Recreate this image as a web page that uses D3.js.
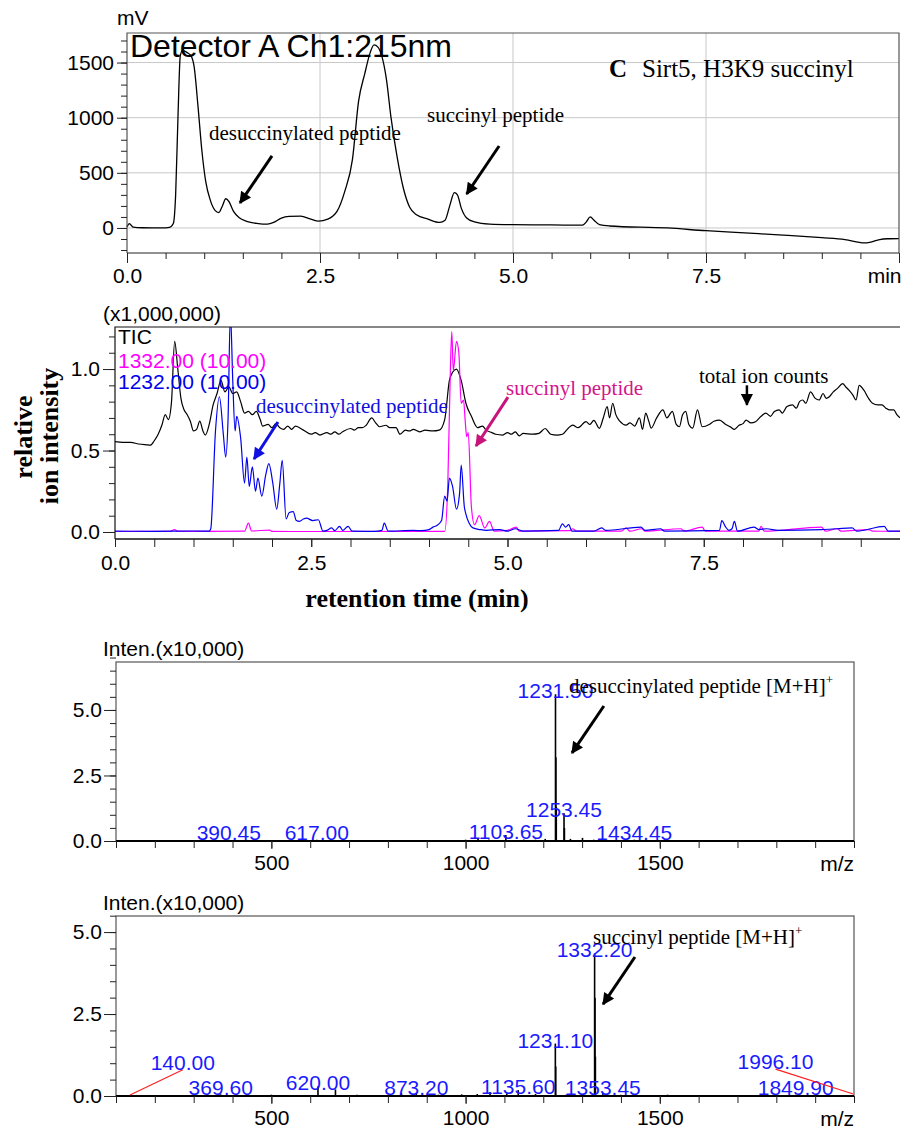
<!DOCTYPE html>
<html>
<head>
<meta charset="utf-8">
<script src="https://cdn.jsdelivr.net/npm/d3@7"></script>
<style>
  body { margin: 0; background: #fff; }
  svg { display: block; }
</style>
</head>
<body>
<svg id="chart" width="901" height="1132"></svg>
<script>
// ---- UV chromatogram, Detector A Ch1:215nm  [min, mV]
const uvTrace = [[0,10],[0.03,40],[0.08,8],[0.2,2],[0.45,0],[0.55,5],[0.6,40],[0.63,300],[0.66,1000],[0.69,1560],
  [0.72,1610],[0.78,1590],[0.83,1560],[0.87,1460],[0.92,1100],[0.97,700],[1.02,420],[1.08,250],[1.14,160],[1.19,140],
  [1.23,190],[1.28,265],[1.32,240],[1.38,150],[1.45,95],[1.55,60],[1.7,40],[1.82,35],[1.9,50],[2.0,90],[2.1,105],
  [2.25,108],[2.38,80],[2.48,62],[2.6,80],[2.72,150],[2.82,330],[2.92,620],[3.0,1150],[3.08,1400],[3.15,1590],
  [3.2,1660],[3.25,1640],[3.3,1560],[3.36,1350],[3.42,1000],[3.5,640],[3.58,360],[3.66,190],[3.75,120],[3.9,80],
  [4.05,50],[4.12,70],[4.18,200],[4.24,320],[4.28,300],[4.33,180],[4.4,90],[4.5,55],[4.7,35],[5.0,30],[5.5,28],
  [5.9,25],[5.95,55],[6.0,100],[6.05,70],[6.12,30],[6.25,18],[7.0,0],[7.5,-25],[8.0,-45],[8.5,-65],[9.0,-88],
  [9.3,-105],[9.55,-135],[9.62,-130],[9.75,-105],[9.85,-98],[10,-96]];

// ---- LC-MS chromatograms (x1,000,000)  [min, intensity]
const ticTrace = [[0,0.555],[0.1,0.55],[0.2,0.55],[0.3,0.54],[0.4,0.535],[0.45,0.533],[0.5,0.56],[0.55,0.6],[0.6,0.66],
  [0.64,0.72],[0.68,0.69],[0.72,0.8],[0.76,1.17],[0.8,1.0],[0.84,0.82],[0.88,0.75],[0.92,0.72],[0.96,0.68],[1.0,0.62],
  [1.04,0.63],[1.08,0.68],[1.12,0.62],[1.15,0.595],[1.2,0.66],[1.25,0.78],[1.3,0.85],[1.35,0.93],[1.4,0.86],[1.45,0.89],
  [1.5,0.85],[1.55,0.86],[1.6,0.8],[1.65,0.73],[1.7,0.74],[1.75,0.72],[1.8,0.74],[1.85,0.69],[1.88,0.65],[1.95,0.66],
  [2.0,0.64],[2.05,0.665],[2.1,0.64],[2.15,0.63],[2.2,0.65],[2.25,0.63],[2.3,0.65],[2.4,0.625],[2.5,0.6],[2.55,0.61],
  [2.61,0.595],[2.7,0.61],[2.75,0.6],[2.8,0.615],[2.85,0.6],[2.9,0.615],[3.0,0.635],[3.05,0.625],[3.1,0.64],[3.15,0.64],
  [3.2,0.655],[3.27,0.70],[3.32,0.67],[3.37,0.646],[3.45,0.655],[3.5,0.64],[3.58,0.64],[3.63,0.60],[3.7,0.625],
  [3.75,0.62],[3.8,0.63],[3.88,0.615],[3.95,0.625],[4.05,0.62],[4.13,0.625],[4.2,0.69],[4.26,0.93],[4.3,0.98],
  [4.35,1.0],[4.41,0.93],[4.47,0.79],[4.54,0.71],[4.62,0.64],[4.68,0.65],[4.73,0.625],[4.8,0.61],[4.85,0.6],
  [4.94,0.595],[5.0,0.61],[5.05,0.6],[5.1,0.615],[5.15,0.59],[5.2,0.605],[5.32,0.6],[5.4,0.605],[5.48,0.635],
  [5.55,0.6],[5.63,0.595],[5.7,0.6],[5.78,0.64],[5.83,0.656],[5.9,0.64],[6.0,0.677],[6.05,0.66],[6.1,0.685],
  [6.17,0.636],[6.22,0.7],[6.27,0.77],[6.3,0.70],[6.34,0.79],[6.38,0.72],[6.43,0.68],[6.51,0.656],[6.56,0.67],
  [6.62,0.65],[6.68,0.70],[6.72,0.63],[6.76,0.73],[6.8,0.68],[6.83,0.638],[6.9,0.70],[6.98,0.75],[7.03,0.70],
  [7.1,0.74],[7.15,0.66],[7.19,0.646],[7.23,0.72],[7.27,0.74],[7.31,0.66],[7.36,0.638],[7.42,0.75],[7.48,0.646],
  [7.57,0.66],[7.63,0.68],[7.7,0.687],[7.78,0.66],[7.84,0.645],[7.89,0.63],[7.95,0.655],[8.0,0.665],[8.04,0.687],
  [8.1,0.67],[8.16,0.677],[8.23,0.71],[8.29,0.73],[8.35,0.71],[8.4,0.74],[8.46,0.75],[8.5,0.73],[8.56,0.77],
  [8.63,0.78],[8.68,0.76],[8.72,0.80],[8.76,0.81],[8.8,0.79],[8.86,0.86],[8.92,0.82],[8.97,0.81],[9.02,0.85],
  [9.06,0.82],[9.1,0.83],[9.15,0.86],[9.2,0.88],[9.27,0.91],[9.31,0.89],[9.35,0.87],[9.4,0.84],[9.44,0.81],
  [9.48,0.90],[9.54,0.87],[9.6,0.82],[9.65,0.79],[9.72,0.78],[9.77,0.78],[9.82,0.76],[9.86,0.75],[9.92,0.75],
  [9.96,0.72],[10,0.70]];

const mz1232Trace = [[0,0.005],[0.5,0.004],[1.0,0.006],[1.2,0.005],[1.22,0.02],[1.28,0.62],[1.33,0.83],[1.38,0.6],
  [1.41,0.46],[1.44,0.69],[1.47,1.35],[1.5,0.93],[1.53,0.62],[1.55,0.71],[1.6,0.58],[1.65,0.3],[1.68,0.46],[1.71,0.28],
  [1.75,0.4],[1.79,0.25],[1.82,0.33],[1.87,0.22],[1.92,0.35],[1.96,0.42],[2.01,0.3],[2.06,0.14],[2.1,0.3],[2.13,0.44],
  [2.18,0.08],[2.22,0.12],[2.27,0.125],[2.31,0.07],[2.35,0.065],[2.4,0.08],[2.44,0.085],[2.52,0.07],[2.59,0.075],
  [2.65,0.005],[2.7,0.01],[2.76,0.025],[2.8,0.008],[2.86,0.035],[2.9,0.01],[2.97,0.035],[3.02,0.005],[3.3,0.004],
  [3.4,0.01],[3.43,0.055],[3.48,0.005],[3.8,0.01],[3.9,0.008],[4.0,0.015],[4.05,0.03],[4.1,0.04],[4.16,0.07],[4.2,0.22],
  [4.23,0.19],[4.26,0.33],[4.3,0.28],[4.35,0.14],[4.39,0.24],[4.41,0.41],[4.45,0.155],[4.47,0.11],[4.51,0.055],
  [4.56,0.025],[4.65,0.015],[4.73,0.01],[4.9,0.015],[5.0,0.005],[5.1,0.02],[5.2,0.005],[5.65,0.01],[5.7,0.05],
  [5.74,0.03],[5.78,0.045],[5.82,0.005],[6.1,0.005],[6.2,0.025],[6.25,0.01],[6.7,0.03],[6.75,0.01],[6.95,0.02],
  [7.0,0.005],[7.7,0.01],[7.73,0.07],[7.78,0.03],[7.82,0.01],[7.86,0.02],[7.89,0.065],[7.93,0.005],[8.14,0.03],
  [8.2,0.015],[8.3,0.02],[8.45,0.01],[9.0,0.015],[9.2,0.02],[9.39,0.025],[9.45,0.005],[9.8,0.035],[9.85,0.005],[10,0.005]];

const mz1332Trace = [[0,0.003],[0.7,0.004],[0.76,0.015],[0.8,0.004],[1.65,0.005],[1.7,0.055],[1.74,0.006],[1.97,0.012],
  [2.0,0.004],[2.4,0.003],[4.2,0.004],[4.24,0.3],[4.27,0.95],[4.29,1.23],[4.31,0.99],[4.35,1.17],[4.38,1.1],[4.41,0.79],
  [4.44,0.81],[4.46,0.69],[4.48,0.585],[4.5,0.61],[4.54,0.155],[4.58,0.045],[4.64,0.1],[4.71,0.025],[4.77,0.065],
  [4.83,0.005],[5.0,0.01],[5.11,0.03],[5.15,0.005],[5.8,0.008],[5.83,0.02],[5.88,0.005],[6.45,0.005],[6.51,0.025],
  [6.56,0.005],[6.71,0.02],[6.75,0.005],[7.21,0.02],[7.25,0.005],[7.48,0.03],[7.52,0.005],[8.2,0.005],[8.23,0.035],
  [8.27,0.005],[9.0,0.03],[9.05,0.005],[9.2,0.02],[9.25,0.005],[9.6,0.015],[9.65,0.005],[10,0.004]];

// ---- mass spectra (x10,000)  [m/z, intensity]
const spectrum1 = [[150,0.03],[210,0.02],[260,0.03],[310,0.02],[390.45,0.05],[420,0.03],[480,0.02],[540,0.03],
  [617,0.05],[660,0.03],[720,0.02],[780,0.03],[840,0.02],[900,0.03],[950,0.04],[1000,0.05],[1032,0.1],[1060,0.06],
  [1103.65,0.23],[1150,0.06],[1180,0.05],[1205,0.08],[1231.5,5.6],[1232.5,3.2],[1233.5,1.3],[1253.45,1.06],
  [1254.45,0.5],[1270,0.08],[1301,0.12],[1330,0.05],[1380,0.04],[1434.45,0.05],[1480,0.03],[1530,0.03],[1600,0.03],
  [1650,0.02],[1700,0.03],[1760,0.02],[1820,0.03],[1880,0.02],[1950,0.03]];
const spectrum1Labels = [["390.45",390.45,0.05],["617.00",617,0.05],["1103.65",1103.65,0.23],["1231.50",1231.5,5.6],
  ["1253.45",1253.45,1.06],["1434.45",1434.45,0.05]];

const spectrum2 = [[140,0.02],[200,0.03],[260,0.02],[330,0.03],[369.6,0.05],[430,0.03],[500,0.04],[560,0.03],
  [620,0.3],[665,0.2],[720,0.04],[780,0.03],[835,0.08],[873.2,0.06],[930,0.04],[990,0.05],[1030,0.06],[1063,0.12],
  [1106,0.08],[1135.6,0.18],[1180,0.06],[1231.1,1.6],[1232.1,0.9],[1260,0.05],[1300,0.06],[1332.2,4.35],[1333.2,3.0],
  [1334.2,1.2],[1353.45,0.1],[1400,0.04],[1460,0.03],[1520,0.04],[1600,0.03],[1680,0.03],[1760,0.02],[1849.9,0.04],
  [1920,0.03],[1996.1,0.02]];
const spectrum2Labels = [["369.60",369.6,0.08],["620.00",620,0.3],["873.20",873.2,0.08],["1135.60",1135.6,0.18],
  ["1231.10",1231.1,1.6],["1332.20",1332.2,4.35],["1353.45",1353.45,0.1],["1849.90",1849.9,0.08]];
// callouts with leader lines: [label, peak m/z, peak int, label m/z, label int]
const spectrum2Callouts = [["140.00",136,0.03,272,0.8],["1996.10",1998,0.06,1798,0.82]];

const SANS = 'Arial, "Liberation Sans", sans-serif';
const SERIF = '"Times New Roman", "Liberation Serif", serif';
const BLUE = '#1a1aff';

const svg = d3.select('#chart');
svg.append('rect').attr('width', 901).attr('height', 1132).attr('fill', '#fff');

const defs = svg.append('defs');
function arrowMarker(id, color) {
  defs.append('marker').attr('id', id)
    .attr('viewBox', '0 0 10 10').attr('refX', 9).attr('refY', 5)
    .attr('markerWidth', 14).attr('markerHeight', 12)
    .attr('markerUnits', 'userSpaceOnUse').attr('orient', 'auto')
    .append('path').attr('d', 'M0,0 L10,5 L0,10 Z').attr('fill', color);
}
arrowMarker('arrK', '#000');
arrowMarker('arrB', '#1010e0');
arrowMarker('arrM', '#c8147a');

function txt(parent, x, y, s, size, opt = {}) {
  return parent.append('text').attr('x', x).attr('y', y)
    .attr('font-family', opt.family || SANS).attr('font-size', size)
    .attr('font-weight', opt.weight || 'normal')
    .attr('text-anchor', opt.anchor || 'start')
    .attr('fill', opt.fill || '#000').text(s);
}

function arrow(parent, x, y, p, q, color, marker, w = 3) {
  parent.append('line')
    .attr('x1', x(p[0])).attr('y1', y(p[1])).attr('x2', x(q[0])).attr('y2', y(q[1]))
    .attr('stroke', color).attr('stroke-width', w).attr('marker-end', `url(#${marker})`);
}

// minor + major ticks and labels for one axis
function drawAxis(parent, orient, scale, pos, major, minor, fmt, majorLen, minorLen, pad) {
  const mk = orient === 'bottom' ? d3.axisBottom : d3.axisLeft;
  const tr = orient === 'bottom' ? `translate(0,${pos})` : `translate(${pos},0)`;
  const m = parent.append('g').attr('transform', tr)
    .call(mk(scale).tickValues(minor).tickSize(minorLen).tickSizeOuter(0).tickFormat(''));
  m.select('.domain').remove();
  m.selectAll('line').attr('stroke', '#222');
  const a = parent.append('g').attr('transform', tr)
    .call(mk(scale).tickValues(major).tickSize(majorLen).tickSizeOuter(0).tickFormat(fmt).tickPadding(pad));
  a.select('.domain').remove();
  a.selectAll('line').attr('stroke', '#222');
  a.selectAll('text').attr('font-family', SANS).attr('font-size', 21).attr('fill', '#000');
  return a;
}

const range = (a, b, s) => d3.range(Math.round(a / s), Math.round(b / s) + 1).map(i => +(i * s).toFixed(4));
const timeFmt = d => d.toFixed(1);

// ================= Panel 1: UV =================
{
  const L = 127, R = 899, T = 33, B = 253;
  const x = d3.scaleLinear().domain([0, 10]).range([L, R]);
  const y = d3.scaleLinear().domain([-227, 1768]).range([B, T]);
  const g = svg.append('g');

  g.selectAll('.hg').data([0, 500, 1000, 1500]).join('line')
    .attr('x1', L).attr('x2', R).attr('y1', d => y(d)).attr('y2', d => y(d))
    .attr('stroke', '#c8c8c8').attr('stroke-width', 1);
  g.selectAll('.vg').data([2.5, 5, 7.5]).join('line')
    .attr('y1', T).attr('y2', B).attr('x1', d => x(d)).attr('x2', d => x(d))
    .attr('stroke', '#c8c8c8').attr('stroke-width', 1);

  g.append('path').datum(uvTrace)
    .attr('d', d3.line().x(d => x(d[0])).y(d => y(d[1])).curve(d3.curveMonotoneX))
    .attr('fill', 'none').attr('stroke', '#000').attr('stroke-width', 1.3);

  g.append('path').attr('d', `M${L},${B}V${T}H${R}V${B}`)
    .attr('fill', 'none').attr('stroke', '#555').attr('stroke-width', 1.2);
  g.append('line').attr('x1', L).attr('x2', R).attr('y1', B).attr('y2', B).attr('stroke', '#222').attr('stroke-width', 1.2);

  drawAxis(g, 'bottom', x, B, [0, 2.5, 5, 7.5, 10], range(0, 10, 0.5),
    d => d === 10 ? 'min' : timeFmt(d), 10, 6, 5)
    .selectAll('.tick:last-of-type text').attr('text-anchor', 'end').attr('dx', 2);
  drawAxis(g, 'left', y, L, [0, 500, 1000, 1500], range(-200, 1700, 100), d => d, 10, 6, 3);

  txt(g, L - 10, 25, 'mV', 21);
  txt(g, 130, 57, 'Detector A Ch1:215nm', 32);
  const c = txt(g, 609, 77, '', 25, { family: SERIF });
  c.append('tspan').attr('font-weight', 'bold').text('C');
  c.append('tspan').attr('x', 642).text('Sirt5, H3K9 succinyl');

  txt(g, 209, 140, 'desuccinylated peptide', 21, { family: SERIF });
  txt(g, 427, 122, 'succinyl peptide', 21, { family: SERIF });
  arrow(g, x, y, [1.878, 653], [1.464, 227], '#000', 'arrK');
  arrow(g, x, y, [4.82, 743], [4.40, 308], '#000', 'arrK');
}

// ================= Panel 2: LC-MS chromatograms =================
{
  const L = 115, R = 900, T = 327, B = 539;
  const x = d3.scaleLinear().domain([0, 10]).range([L, R]);
  const y = d3.scaleLinear().domain([-0.043, 1.258]).range([B, T]);
  const g = svg.append('g');

  defs.append('clipPath').attr('id', 'clip2')
    .append('rect').attr('x', L).attr('y', T).attr('width', R - L).attr('height', B - T);

  const line = d3.line().x(d => x(d[0])).y(d => y(d[1])).curve(d3.curveMonotoneX);
  const traces = g.append('g').attr('clip-path', 'url(#clip2)');
  [[ticTrace, '#000'], [mz1332Trace, '#ff00ff'], [mz1232Trace, '#0000ee']].forEach(([data, col]) => {
    traces.append('path').datum(data).attr('d', line)
      .attr('fill', 'none').attr('stroke', col).attr('stroke-width', 1.2);
  });

  g.append('path').attr('d', `M${L},${B}V${T}H${R}`)
    .attr('fill', 'none').attr('stroke', '#111').attr('stroke-width', 1.2);
  g.append('line').attr('x1', L).attr('x2', R).attr('y1', B).attr('y2', B).attr('stroke', '#111').attr('stroke-width', 1.5);

  drawAxis(g, 'bottom', x, B, [0, 2.5, 5, 7.5], range(0, 9.5, 0.5), timeFmt, 8, 8, 8);
  drawAxis(g, 'left', y, L, [0, 0.5, 1.0], range(0, 1.2, 0.1), timeFmt, 12, 6, 3);

  txt(g, 103, 321, '(x1,000,000)', 21);
  txt(g, 118, 344, 'TIC', 21);
  txt(g, 118, 368, '1332.00 (10.00)', 21, { fill: '#ff00ff' });
  txt(g, 118, 389, '1232.00 (10.00)', 21, { fill: '#0000ee' });

  txt(g, 256, 413, 'desuccinylated peptide', 21, { family: SERIF, fill: '#1010e0' });
  txt(g, 506, 395, 'succinyl peptide', 21, { family: SERIF, fill: '#d4148c' });
  txt(g, 699, 383, 'total ion counts', 21, { family: SERIF });
  arrow(g, x, y, [2.076, 0.675], [1.771, 0.448], '#1010e0', 'arrB');
  arrow(g, x, y, [5.006, 0.828], [4.599, 0.528], '#c8147a', 'arrM');
  arrow(g, x, y, [8.05, 0.90], [8.05, 0.78], '#000', 'arrK', 2.5);

  svg.append('text').attr('transform', 'translate(32,437) rotate(-90)')
    .attr('text-anchor', 'middle').attr('font-family', SERIF).attr('font-weight', 'bold')
    .attr('font-size', 26).text('relative');
  svg.append('text').attr('transform', 'translate(58,436) rotate(-90)')
    .attr('text-anchor', 'middle').attr('font-family', SERIF).attr('font-weight', 'bold')
    .attr('font-size', 26).text('ion intensity');
  txt(svg, 417, 607, 'retention time (min)', 26, { family: SERIF, weight: 'bold', anchor: 'middle' });
}

// ================= Panels 3 & 4: mass spectra =================
function spectrumPanel(T, B, yMax, peaks, labels, callouts, note, arrowFrom, arrowTo) {
  const L = 116, R = 854;
  const x = d3.scaleLinear().domain([100, 2000]).range([L, R]);
  const y = d3.scaleLinear().domain([0, yMax]).range([B, T]);
  const g = svg.append('g');

  g.append('rect').attr('x', L).attr('y', T).attr('width', R - L).attr('height', B - T)
    .attr('fill', 'none').attr('stroke', '#555').attr('stroke-width', 1.2);

  g.selectAll('.pk').data(peaks).join('line')
    .attr('x1', d => x(d[0])).attr('x2', d => x(d[0]))
    .attr('y1', y(0)).attr('y2', d => y(d[1]))
    .attr('stroke', '#000').attr('stroke-width', 1.6);

  g.append('line').attr('x1', L).attr('x2', R).attr('y1', B).attr('y2', B)
    .attr('stroke', '#000').attr('stroke-width', 2.2);

  drawAxis(g, 'bottom', x, B, [500, 1000, 1500], range(100, 2000, 100), d => d, 8, 7, 6);
  const yMajor = [0, 2.5, 5.0].filter(v => v <= yMax);
  drawAxis(g, 'left', y, L, yMajor, range(0, yMax, 0.5), timeFmt, 12, 6, 2);
  txt(g, R, B + 30, 'm/z', 21, { anchor: 'end' });
  txt(g, 103, T - 6, 'Inten.(x10,000)', 21);

  g.selectAll('.lbl').data(labels).join('text')
    .attr('x', d => x(d[1])).attr('y', d => Math.min(y(d[2]) + 4, B - 1))
    .attr('text-anchor', 'middle').attr('font-family', SANS).attr('font-size', 21)
    .attr('fill', BLUE).text(d => d[0]);

  // labels moved off their peak, joined back by a red leader line
  callouts.forEach(([s, pm, pi, lm, li]) => {
    g.append('line').attr('x1', x(pm)).attr('y1', y(pi)).attr('x2', x(lm)).attr('y2', y(li))
      .attr('stroke', '#ff2020').attr('stroke-width', 1.2);
    txt(g, x(lm), y(li), s, 21, { fill: BLUE, anchor: 'middle' });
  });

  const n = txt(g, note[1], note[2], note[0], 21, { family: SERIF });
  n.append('tspan').attr('font-size', 13).attr('dy', -9).text('+');
  arrow(g, x, y, arrowFrom, arrowTo, '#000', 'arrK');
}

spectrumPanel(662, 841, 6.83, spectrum1, spectrum1Labels, [],
  ['desuccinylated peptide [M+H]', 569, 693], [1356, 5.15], [1274, 3.36]);
spectrumPanel(916, 1096, 5.49, spectrum2, spectrum2Labels, spectrum2Callouts,
  ['succinyl peptide [M+H]', 593, 944], [1436, 4.24], [1354, 2.80]);
</script>
</body>
</html>
